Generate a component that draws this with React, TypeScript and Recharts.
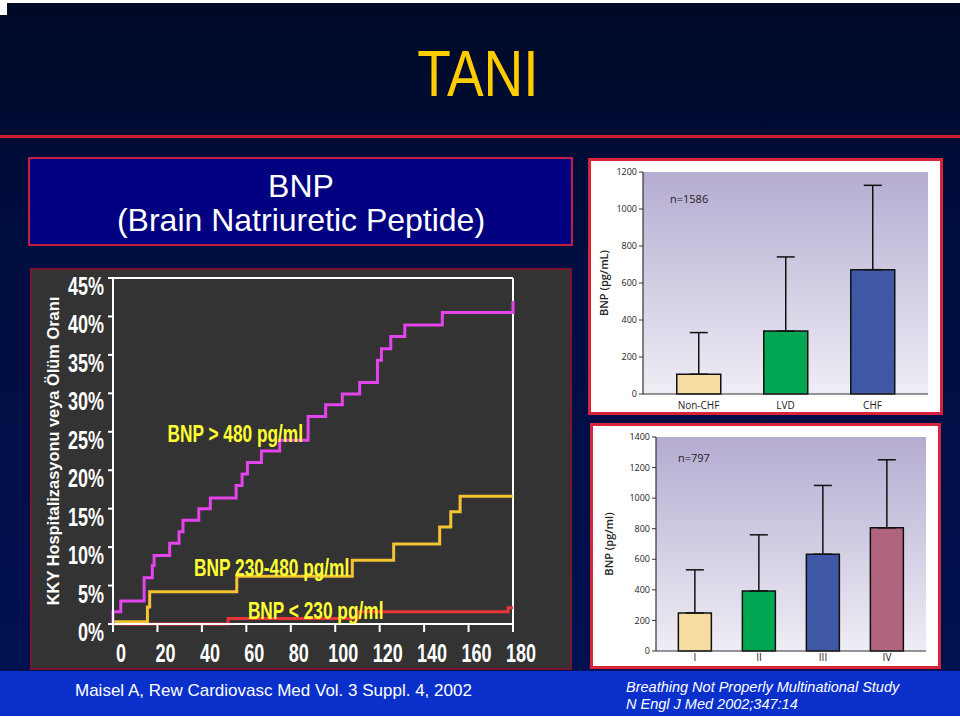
import React from "react";
import {
  LineChart,
  Line,
  XAxis,
  YAxis,
  ReferenceLine,
  ReferenceDot,
  BarChart,
  Bar,
  ErrorBar,
  CartesianGrid,
  Cell,
} from "recharts";

// --- left chart: cumulative event rate (%) by day, step curves ---
const dayTicks = [0, 20, 40, 60, 80, 100, 120, 140, 160, 180];
const pctTicks = [0, 5, 10, 15, 20, 25, 30, 35, 40, 45];

const highDays = [0, 0, 3.5, 14, 17.7, 18.5, 25.5, 29.7, 31.5, 38.6, 43.8, 55.4, 58.1, 60.5, 66.8, 75, 87.8, 95.7, 103.2, 111, 119, 120.8, 125, 131.3, 148.2, 180];
const highPct = [0, 1.6, 3.0, 6.0, 7.6, 8.9, 10.5, 12.0, 13.5, 15.0, 16.4, 18.0, 19.5, 21.0, 22.5, 23.9, 27.0, 28.5, 29.9, 31.4, 34.3, 35.8, 37.4, 38.9, 40.5, 42.0];

const midDays = [0, 15.5, 16.5, 55.7, 107.7, 126.3, 147, 152, 156.2, 180];
const midPct = [0.3, 2.2, 4.2, 6.2, 8.3, 10.4, 12.6, 14.6, 16.6, 16.6];

const lowDays = [0, 51.8, 110, 177.8, 180];
const lowPct = [0, 0.7, 1.6, 2.1, 2.1];

// --- right top chart: BNP by diagnosis ---
const groups = ["Non-CHF", "LVD", "CHF"];
const groupMean = [107, 340, 672];
const groupUpper = [332, 741, 1128];
const groupColors = ["#f6dca0", "#00a651", "#3f58a6"];
const groupTicks = [0, 200, 400, 600, 800, 1000, 1200];

// --- right bottom chart: BNP by NYHA class ---
const classes = ["I", "II", "III", "IV"];
const classMean = [249, 393, 633, 806];
const classUpper = [531, 760, 1083, 1251];
const classColors = ["#f6dca0", "#00a651", "#3f58a6", "#b0647e"];
const classTicks = [0, 200, 400, 600, 800, 1000, 1200, 1400];

const toSteps = (days: number[], pct: number[]) =>
  days.map((d, i) => ({ day: d, value: pct[i] }));

const highData = toSteps(highDays, highPct);
const midData = toSteps(midDays, midPct);
const lowData = toSteps(lowDays, lowPct);

const groupData = groups.map((g, i) => ({
  name: g,
  value: groupMean[i],
  err: [0, groupUpper[i] - groupMean[i]],
}));
const classData = classes.map((c, i) => ({
  name: c,
  value: classMean[i],
  err: [0, classUpper[i] - classMean[i]],
}));

const ARIAL = "'Liberation Sans', Arial, Helvetica, sans-serif";
const MYRIAD = "'Open Sans', 'Noto Sans', sans-serif";

// condensed bold tick text (Arial Narrow look)
const NarrowTick = (props: any) => {
  const { x, y, payload, textAnchor, suffix, dx = 0, dy } = props;
  return (
    <text
      transform={`translate(${x + dx},${y}) scale(0.72,1)`}
      textAnchor={textAnchor}
      dy={dy}
      fill="#ffffff"
      fontFamily={ARIAL}
      fontWeight="bold"
      fontSize={25}
    >
      {payload.value}
      {suffix}
    </text>
  );
};

const curveLabel = (text: string) => (props: any) => (
  <text
    transform={`translate(${props.cx},${props.cy}) scale(0.72,1)`}
    textAnchor="middle"
    dy={8}
    fill="#ffff33"
    fontFamily={ARIAL}
    fontWeight="bold"
    fontSize={24}
  >
    {text}
  </text>
);

function StepChart() {
  return (
    <LineChart
      width={542}
      height={402}
      margin={{ top: 10, right: 59, bottom: 0, left: 0 }}
    >
      <XAxis
        dataKey="day"
        type="number"
        domain={[0, 180]}
        ticks={dayTicks}
        height={46}
        tickSize={8}
        tickMargin={12}
        axisLine={{ stroke: "#ffffff", strokeWidth: 2 }}
        tickLine={{ stroke: "#ffffff", strokeWidth: 2 }}
        tick={<NarrowTick dx={8} dy="0.72em" />}
        allowDuplicatedCategory={false}
      />
      <YAxis
        type="number"
        domain={[0, 45]}
        ticks={pctTicks}
        width={83}
        tickSize={5}
        tickMargin={4}
        axisLine={{ stroke: "#ffffff", strokeWidth: 2 }}
        tickLine={{ stroke: "#ffffff", strokeWidth: 2 }}
        tick={<NarrowTick suffix="%" dy={17} />}
        label={{
          value: "KKY Hospitalizasyonu veya Ölüm Oranı",
          angle: -90,
          position: "insideLeft",
          offset: 23,
          fill: "#ffffff",
          fontSize: 16.4,
          fontWeight: "bold",
          fontFamily: ARIAL,
          style: { textAnchor: "middle" },
        }}
      />
      <ReferenceLine y={45} stroke="#ffffff" strokeWidth={2} />
      <ReferenceLine x={180} stroke="#ffffff" strokeWidth={2} />
      <Line
        data={lowData}
        dataKey="value"
        type="stepAfter"
        stroke="#e8353a"
        strokeWidth={3}
        dot={false}
        isAnimationActive={false}
      />
      <Line
        data={midData}
        dataKey="value"
        type="stepAfter"
        stroke="#f4c233"
        strokeWidth={3}
        dot={false}
        isAnimationActive={false}
      />
      <Line
        data={highData}
        dataKey="value"
        type="stepAfter"
        stroke="#e444ec"
        strokeWidth={3}
        dot={false}
        isAnimationActive={false}
      />
      <ReferenceDot x={55} y={24.7} r={0} shape={curveLabel("BNP > 480 pg/ml")} />
      <ReferenceDot x={71.4} y={7.3} r={0} shape={curveLabel("BNP 230-480 pg/ml")} />
      <ReferenceDot x={91.2} y={1.7} r={0} shape={curveLabel("BNP < 230 pg/ml")} />
    </LineChart>
  );
}

function BnpBars(props: {
  data: any[];
  colors: string[];
  ticks: number[];
  width: number;
  height: number;
  yWidth: number;
  xHeight: number;
  xMargin: number;
  xPad: number;
  label: string;
  labelOffset: number;
  gap: string;
  gradId: string;
}) {
  const max = props.ticks[props.ticks.length - 1];
  return (
    <BarChart
      width={props.width}
      height={props.height}
      data={props.data}
      margin={{ top: 11, right: 12, bottom: 0, left: 0 }}
      barCategoryGap={props.gap}
    >
      <defs>
        <linearGradient id={props.gradId} x1="0" y1="0" x2="0" y2="1">
          <stop offset="0%" stopColor="#b5acd1" />
          <stop offset="100%" stopColor="#efedf5" />
        </linearGradient>
      </defs>
      <CartesianGrid
        horizontal={false}
        vertical={false}
        fill={`url(#${props.gradId})`}
        fillOpacity={1}
      />
      <XAxis
        dataKey="name"
        height={props.xHeight}
        padding={{ left: props.xPad, right: props.xPad }}
        tickSize={0}
        tickMargin={props.xMargin}
        tickLine={false}
        axisLine={{ stroke: "#333333", strokeWidth: 1.2 }}
        tick={{ fill: "#222222", fontSize: 10, fontFamily: MYRIAD }}
      />
      <XAxis
        xAxisId="top"
        orientation="top"
        dataKey="name"
        height={0}
        tick={false}
        tickLine={false}
        axisLine={{ stroke: "#333333", strokeWidth: 1.2 }}
      />
      <YAxis
        domain={[0, max]}
        ticks={props.ticks}
        width={props.yWidth}
        tickSize={4}
        tickMargin={2}
        axisLine={{ stroke: "#333333", strokeWidth: 1.2 }}
        tickLine={{ stroke: "#333333" }}
        tick={{ fill: "#222222", fontSize: 9, fontFamily: MYRIAD }}
        label={{
          value: props.label,
          angle: -90,
          position: "insideLeft",
          offset: props.labelOffset,
          fill: "#222222",
          fontSize: 11,
          fontWeight: 600,
          fontFamily: MYRIAD,
          style: { textAnchor: "middle" },
        }}
      />
      <YAxis
        yAxisId="right"
        orientation="right"
        domain={[0, max]}
        width={0}
        tick={false}
        tickLine={false}
        axisLine={{ stroke: "#333333", strokeWidth: 1.2 }}
      />
      <Bar
        dataKey="value"
        stroke="#111111"
        strokeWidth={1.5}
        isAnimationActive={false}
      >
        {props.data.map((d, i) => (
          <Cell key={d.name} fill={props.colors[i]} />
        ))}
        <ErrorBar
          dataKey="err"
          direction="y"
          width={9}
          stroke="#111111"
          strokeWidth={1.5}
          isAnimationActive={false}
        />
      </Bar>
    </BarChart>
  );
}

export default function App() {
  return (
    <div
      style={{
        position: "fixed",
        left: 0,
        top: 0,
        width: 960,
        height: 720,
        background: "#ffffff",
        overflow: "hidden",
      }}
    >
      <div
        style={{
          position: "absolute",
          left: 0,
          top: 3,
          width: 960,
          height: 713,
          background: "linear-gradient(#000a26 0%, #000d3e 30%, #001152 100%)",
        }}
      />
      <div
        style={{
          position: "absolute",
          left: 0,
          top: 671,
          width: 960,
          height: 45,
          background: "#0a30cc",
        }}
      />
      <div
        style={{ position: "absolute", left: 0, top: 0, width: 7, height: 15, background: "#ffffff" }}
      />
      <svg
        width={960}
        height={720}
        style={{ position: "absolute", left: 0, top: 0 }}
      >
        <rect x={0} y={135} width={960} height={3} fill="#c8202e" />
        <text
          transform="translate(478,96) scale(0.86,1)"
          textAnchor="middle"
          fill="#ffcc00"
          fontFamily={ARIAL}
          fontSize={64}
        >
          TANI
        </text>
        <rect
          x={29}
          y={158}
          width={543}
          height={87}
          fill="#000080"
          stroke="#c21f43"
          strokeWidth={2}
        />
        <text x={301} y={197} textAnchor="middle" fill="#ffffff" fontFamily={ARIAL} fontSize={32}>
          BNP
        </text>
        <text x={301} y={231} textAnchor="middle" fill="#ffffff" fontFamily={ARIAL} fontSize={32}>
          (Brain Natriuretic Peptide)
        </text>
        <rect
          x={31}
          y={269}
          width={540}
          height={400}
          fill="#333333"
          stroke="#7a1530"
          strokeWidth={2}
        />
        <text x={75} y={696} fill="#ffffff" fontFamily={ARIAL} fontSize={17}>
          Maisel A, Rew Cardiovasc Med Vol. 3 Suppl. 4, 2002
        </text>
        <text x={626} y={692} fill="#ffffff" fontFamily={ARIAL} fontSize={14.5} fontStyle="italic">
          Breathing Not Properly Multinational Study
        </text>
        <text x={626} y={709} fill="#ffffff" fontFamily={ARIAL} fontSize={14.5} fontStyle="italic">
          N Engl J Med 2002;347:14
        </text>
      </svg>

      <div style={{ position: "absolute", left: 30, top: 268 }}>
        <StepChart />
      </div>

      <div
        style={{
          position: "absolute",
          left: 588,
          top: 158,
          width: 355,
          height: 257,
          boxSizing: "border-box",
          border: "3px solid #d8243a",
          background: "#ffffff",
        }}
      >
        <BnpBars
          data={groupData}
          colors={groupColors}
          ticks={groupTicks}
          width={349}
          height={251}
          yWidth={52}
          xHeight={18}
          xMargin={8}
          xPad={12}
          label="BNP (pg/mL)"
          labelOffset={13}
          gap="25%"
          gradId="gradTop"
        />
        <div
          style={{
            position: "absolute",
            left: 79,
            top: 30,
            fontFamily: MYRIAD,
            fontSize: 11,
            color: "#222222",
          }}
        >
          n=1586
        </div>
      </div>

      <div
        style={{
          position: "absolute",
          left: 590,
          top: 423,
          width: 351,
          height: 246,
          boxSizing: "border-box",
          border: "3px solid #d8243a",
          background: "#ffffff",
        }}
      >
        <BnpBars
          data={classData}
          colors={classColors}
          ticks={classTicks}
          width={345}
          height={240}
          yWidth={63}
          xHeight={15}
          xMargin={3}
          xPad={7}
          label="BNP (pg/ml)"
          labelOffset={16}
          gap="24%"
          gradId="gradBottom"
        />
        <div
          style={{
            position: "absolute",
            left: 85,
            top: 24,
            fontFamily: MYRIAD,
            fontSize: 11,
            color: "#222222",
          }}
        >
          n=797
        </div>
      </div>
    </div>
  );
}
